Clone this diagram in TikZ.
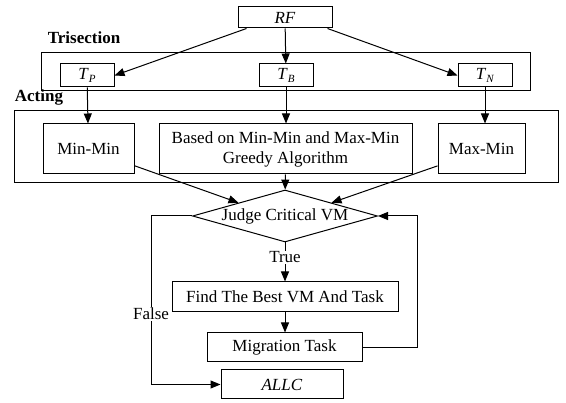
\documentclass[tikz,border=0pt]{standalone}
\usepackage{fontspec}
\setmainfont{Liberation Serif}
\usepackage{tikz}
\usetikzlibrary{arrows.meta,shapes.geometric,positioning}

\begin{document}
\begin{tikzpicture}[x=1pt,y=-1pt,line width=1pt,
    font=\fontsize{17}{20}\selectfont,
    box/.style={draw,rectangle,inner sep=0pt,align=center},
    arr/.style={-{Triangle[length=10pt,width=8pt]}},
    lbl/.style={font=\fontsize{17}{20}\selectfont\bfseries}]
      \useasboundingbox (0,0) rectangle (566,403);

      \node[box,minimum width=94pt,minimum height=21pt] (RF) at (285,17.5) {\textit{RF}};

      \node[lbl] (TRI) at (84,38) {Trisection};
      \draw (41,53) rectangle (530,91);
      \node[box,minimum width=54pt,minimum height=23pt] (TP) at (87,75.5)
        {\textit{T}\raisebox{-0.35ex}{\fontsize{11}{11}\selectfont\textit{P}}};
      \node[box,minimum width=54pt,minimum height=23pt] (TB) at (286,75.5)
        {\textit{T}\raisebox{-0.35ex}{\fontsize{11}{11}\selectfont\textit{B}}};
      \node[box,minimum width=54pt,minimum height=23pt] (TN) at (485,75.5)
        {\textit{T}\raisebox{-0.35ex}{\fontsize{11}{11}\selectfont\textit{N}}};

      \draw[arr] (RF.south west) ++(9,0) -- (TP.east);
      \draw[arr] (RF) -- (TB);
      \draw[arr] (RF.south east) ++(-5,0) -- (TN.west);

      \node[lbl] (ACT) at (39,97) {Acting};
      \draw (14,111) rectangle (558,183);
      \node[box,minimum width=91pt,minimum height=50pt] (MINMIN) at (88.5,149) {Min-Min};
      \node[box,minimum width=253pt,minimum height=50pt] (GREEDY) at (285.5,149)
        {Based on Min-Min and Max-Min\\Greedy Algorithm};
      \node[box,minimum width=87pt,minimum height=50pt] (MAXMIN) at (481.5,149) {Max-Min};

      \draw[arr] (TP) -- (MINMIN);
      \draw[arr] (TB) -- (GREEDY.north -| TB);
      \draw[arr] (TN) -- (MAXMIN.north -| TN);

      \node[draw,diamond,aspect=3.55,inner sep=0pt,minimum width=185pt,minimum height=52pt]
        (JUDGE) at (285,216) {Judge Critical VM};

      \draw[arr] (MINMIN.-20) -- (JUDGE.north west);
      \draw[arr] (GREEDY) -- (JUDGE);
      \draw[arr] (MAXMIN.201) -- (JUDGE.north east);

      \node[box,minimum width=226pt,minimum height=30pt] (FIND) at (285,297) {Find The Best VM And Task};
      \node[box,minimum width=155pt,minimum height=29pt] (MIGR) at (284.5,347.5) {Migration Task};
      \node[box,minimum width=122pt,minimum height=29pt] (ALLC) at (282,384.5) {\textit{ALLC}};

      \draw[arr] (JUDGE) -- node[pos=0.38,fill=white,inner sep=1pt] {True} (FIND);
      \draw[arr] (FIND) -- (MIGR.north -| FIND);
      \draw[arr] (MIGR.east) -- ++(55,0) |- (JUDGE.east);
      \draw[arr] (JUDGE.west) -- ++(-41,0) |- node[pos=0.29,fill=white,inner sep=1pt] {False} (ALLC.west);
    \end{tikzpicture}
\end{document}
